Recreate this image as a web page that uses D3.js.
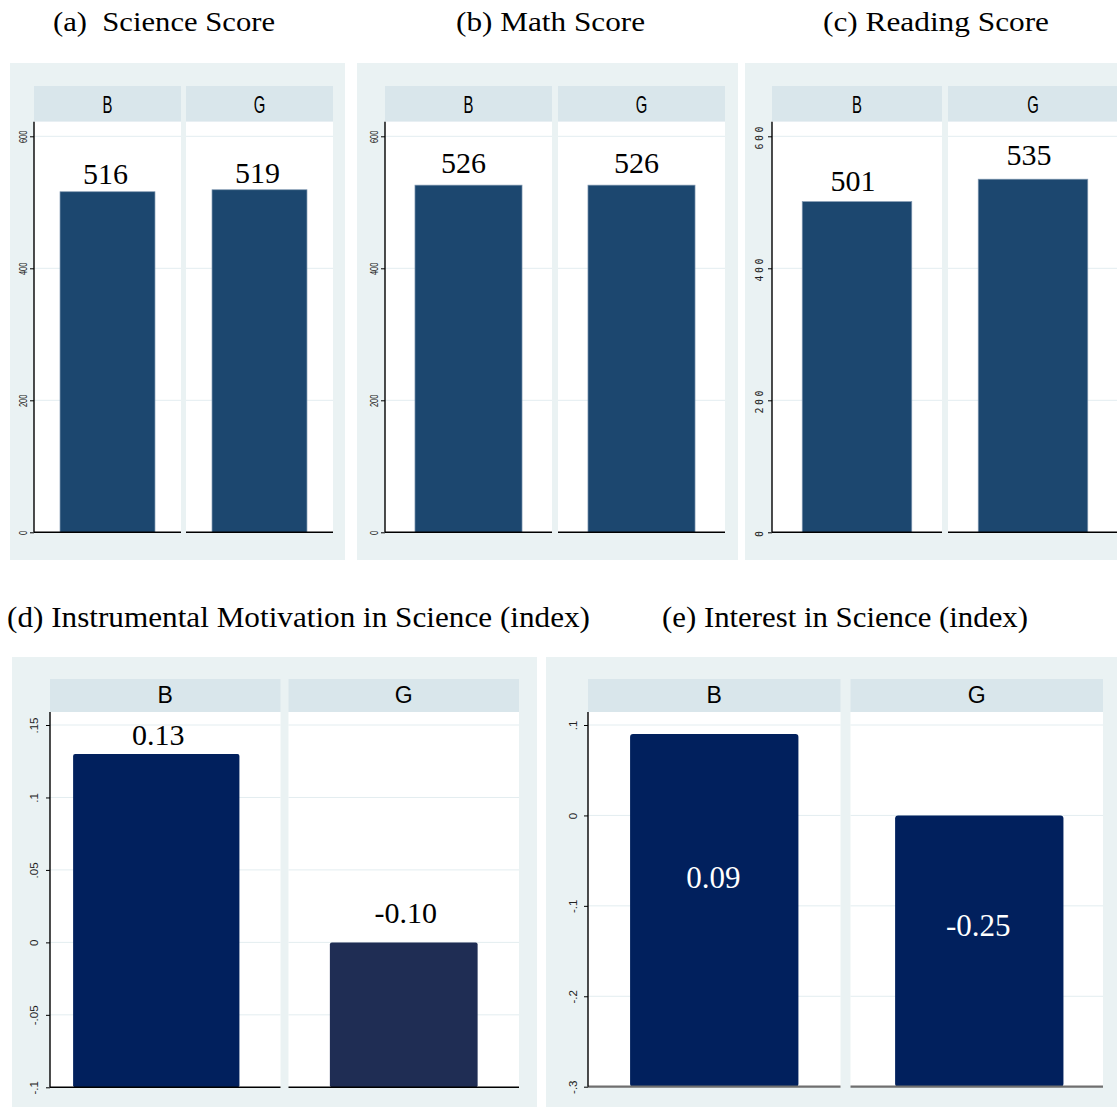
<!DOCTYPE html>
<html>
<head>
<meta charset="utf-8">
<script src="https://cdn.jsdelivr.net/npm/d3@7"></script>
<style>
  html, body { margin: 0; padding: 0; background: #ffffff; }
  svg { display: block; }
</style>
</head>
<body>
<svg id="chart" width="1117" height="1108"></svg>
<script>
// ---- data ----------------------------------------------------------
const groups = ["B", "G"];

const scienceScore = [516, 519];
const mathScore = [526, 526];
const readingScore = [501, 535];
const instrumentalMotivation = [0.13, -0.10];
const interestInScience = [0.09, -0.25];

const scoreTicks = [0, 200, 400, 600];
const scoreTickLabels = ["0", "200", "400", "600"];
const motivationTicks = [-0.1, -0.05, 0, 0.05, 0.1, 0.15];
const motivationTickLabels = ["-.1", "-.05", "0", ".05", ".1", ".15"];
const interestTicks = [-0.3, -0.2, -0.1, 0, 0.1];
const interestTickLabels = ["-.3", "-.2", "-.1", "0", ".1"];

const panelTitles = [
  "(a)  Science Score",
  "(b) Math Score",
  "(c) Reading Score",
  "(d) Instrumental Motivation in Science (index)",
  "(e) Interest in Science (index)"
];

// ---- number formats (plain hyphen for negatives) --------------------
const loc = d3.formatLocale({ decimal: ".", thousands: ",", grouping: [3], currency: ["", ""], minus: "-" });
const fmtInt = loc.format("d");
const fmt2 = loc.format(".2f");

// ---- colours ---------------------------------------------------------
const BG = "#eaf2f3";
const STRIP = "#d9e6eb";
const GRID = "#e3edf0";
const NAVY_TOP = "#1c476f";
const NAVY_BOT = "#01205d";
const NAVY_DARK = "#1f2d54";

const serif = "'Liberation Serif', 'Times New Roman', serif";
const sans = "'Liberation Sans', Arial, sans-serif";

// ---- panel layout ----------------------------------------------------
const panels = [
  {
    title: panelTitles[0], titleX: 53, titleY: 31, titleLen: 222, titleSize: 28,
    bg: [10, 63, 345, 560], x0: 34, x1: 333, gap: 5,
    stripTop: 86, plotTop: 121.7, plotBottom: 532.3, yMaxPx: 136.3,
    domain: [0, 600], values: scienceScore, ticks: scoreTicks, tickLabels: scoreTickLabels,
    fmt: fmtInt, barPad: [0.274, 0.274], barAlign: [0.5, 0.5], colors: [NAVY_TOP, NAVY_TOP],
    labelInside: false, labelDy: [-8, -7], labelDx: -2, labelSize: 30, labelColor: "#000",
    stripStyle: "narrow", tickStyle: "narrow", tickGap: 7, bottomAxisColor: "#000", bottomAxisW: 1.4, radius: 0,
    outline: true
  },
  {
    title: panelTitles[1], titleX: 456, titleY: 31, titleLen: 189, titleSize: 28,
    bg: [357, 63, 738, 560], x0: 385, x1: 725, gap: 6,
    stripTop: 86, plotTop: 121.7, plotBottom: 532.3, yMaxPx: 136.3,
    domain: [0, 600], values: mathScore, ticks: scoreTicks, tickLabels: scoreTickLabels,
    fmt: fmtInt, barPad: [0.28, 0.28], barAlign: [0.5, 0.5], colors: [NAVY_TOP, NAVY_TOP],
    labelInside: false, labelDy: [-12, -12], labelDx: -5, labelSize: 30, labelColor: "#000",
    stripStyle: "narrow", tickStyle: "narrow", tickGap: 7, bottomAxisColor: "#000", bottomAxisW: 1.4, radius: 0,
    outline: true
  },
  {
    title: panelTitles[2], titleX: 823, titleY: 31, titleLen: 226, titleSize: 28,
    bg: [745, 63, 1135, 560], x0: 772, x1: 1118, gap: 6,
    stripTop: 86, plotTop: 121.7, plotBottom: 532.3, yMaxPx: 136.3,
    domain: [0, 600], values: readingScore, ticks: scoreTicks, tickLabels: scoreTickLabels,
    fmt: fmtInt, barPad: [0.276, 0.276], barAlign: [0.5, 0.5], colors: [NAVY_TOP, NAVY_TOP],
    labelInside: false, labelDy: [-11, -14], labelDx: -4, labelSize: 30, labelColor: "#000",
    stripStyle: "narrow", tickStyle: "spaced", tickGap: 9, bottomAxisColor: "#000", bottomAxisW: 1.4, radius: 0,
    outline: true
  },
  {
    title: panelTitles[3], titleX: 7, titleY: 627, titleLen: 583, titleSize: 29,
    bg: [12, 657, 537, 1107], x0: 50, x1: 519, gap: 8,
    stripTop: 679, plotTop: 712, plotBottom: 1087.3, yMaxPx: 725,
    domain: [-0.1, 0.15], values: instrumentalMotivation, ticks: motivationTicks, tickLabels: motivationTickLabels,
    fmt: fmt2, barPad: [0.193, 0.28], barAlign: [0.36, 0.5], colors: [NAVY_BOT, NAVY_DARK],
    labelInside: false, labelDy: [-9, -19], labelDx: 2, labelSize: 30, labelColor: "#000",
    stripStyle: "regular", tickStyle: "regular", tickGap: 12, bottomAxisColor: "#000", bottomAxisW: 1.4, radius: 2,
    outline: false
  },
  {
    title: panelTitles[4], titleX: 662, titleY: 627, titleLen: 366, titleSize: 29,
    bg: [546, 657, 1125, 1107], x0: 588, x1: 1103, gap: 10,
    stripTop: 679, plotTop: 712, plotBottom: 1086.7, yMaxPx: 725,
    domain: [-0.3, 0.1], values: interestInScience, ticks: interestTicks, tickLabels: interestTickLabels,
    fmt: fmt2, barPad: [0.25, 0.25], barAlign: [0.5, 0.53], colors: [NAVY_BOT, NAVY_BOT],
    labelInside: true, labelDy: [154, 121], labelDx: -1, labelSize: 31, labelColor: "#fff",
    stripStyle: "regular", tickStyle: "regular", tickGap: 11, bottomAxisColor: "#6f6f6f", bottomAxisW: 2.2, radius: 3,
    outline: false
  }
];

const svg = d3.select("#chart");

panels.forEach(p => {
  const g = svg.append("g");

  // panel title
  g.append("text")
    .attr("x", p.titleX).attr("y", p.titleY)
    .attr("font-family", serif).attr("font-size", p.titleSize)
    .attr("textLength", p.titleLen).attr("lengthAdjust", "spacingAndGlyphs")
    .attr("fill", "#000")
    .style("white-space", "pre")
    .text(p.title);

  // graph background
  g.append("rect")
    .attr("x", p.bg[0]).attr("y", p.bg[1])
    .attr("width", p.bg[2] - p.bg[0]).attr("height", p.bg[3] - p.bg[1])
    .attr("fill", BG);

  // facet positions
  const facetW = (p.x1 - p.x0 - p.gap) / 2;
  const facet = d3.scaleBand().domain(groups).range([p.x0, p.x1])
    .paddingInner(p.gap / (facetW + p.gap)).paddingOuter(0);

  const y = d3.scaleLinear().domain(p.domain).range([p.plotBottom, p.yMaxPx]);

  groups.forEach((grp, i) => {
    const fx = facet(grp), fw = facet.bandwidth();

    // strip header
    g.append("rect").attr("x", fx).attr("y", p.stripTop)
      .attr("width", fw).attr("height", p.plotTop - p.stripTop).attr("fill", STRIP);
    const st = g.append("text")
      .attr("text-anchor", "middle")
      .attr("font-family", sans)
      .attr("fill", "#000")
      .text(grp);
    if (p.stripStyle === "narrow") {
      st.attr("font-size", 24)
        .attr("transform", `translate(${fx + fw / 2},${p.stripTop + 26.5}) scale(0.62,1)`);
    } else {
      st.attr("font-size", 23)
        .attr("transform", `translate(${fx + fw / 2},${p.stripTop + 24.3})`);
    }

    // plot region
    g.append("rect").attr("x", fx).attr("y", p.plotTop)
      .attr("width", fw).attr("height", p.plotBottom - p.plotTop).attr("fill", "#fff");

    // grid lines
    g.selectAll(null).data(p.ticks.filter(t => t !== p.domain[0])).enter()
      .append("line")
      .attr("x1", fx).attr("x2", fx + fw)
      .attr("y1", d => y(d)).attr("y2", d => y(d))
      .attr("stroke", GRID).attr("stroke-width", 1);

    // bar: rises from the axis floor to the value (or to zero for negatives)
    const band = d3.scaleBand().domain([grp]).range([fx, fx + fw])
      .paddingInner(0).paddingOuter(p.barPad[i]).align(p.barAlign[i]);
    const v = p.values[i];
    const top = y(Math.max(v, 0));
    const base = y(p.domain[0]);
    g.append("rect")
      .attr("x", band(grp)).attr("y", top)
      .attr("width", band.bandwidth()).attr("height", base - top)
      .attr("rx", p.radius).attr("ry", p.radius)
      .attr("fill", p.colors[i])
      .attr("stroke", p.outline ? "#7f97b0" : "none")
      .attr("stroke-width", p.outline ? 0.7 : 0);

    // bottom axis segment
    g.append("line")
      .attr("x1", fx).attr("x2", fx + fw)
      .attr("y1", p.plotBottom).attr("y2", p.plotBottom)
      .attr("stroke", p.bottomAxisColor).attr("stroke-width", p.bottomAxisW);

    // value label
    g.append("text")
      .attr("x", band(grp) + band.bandwidth() / 2 + p.labelDx)
      .attr("y", top + p.labelDy[i])
      .attr("text-anchor", "middle")
      .attr("font-family", serif).attr("font-size", p.labelSize)
      .attr("fill", p.labelColor)
      .text(p.fmt(v));
  });

  // y axis
  const axis = d3.axisLeft(y)
    .tickValues(p.ticks)
    .tickFormat((d, i) => p.tickLabels[i])
    .tickSize(4).tickSizeOuter(0);
  const ax = g.append("g").attr("transform", `translate(${p.x0},0)`).call(axis);
  ax.select(".domain").remove();
  ax.selectAll(".tick line").attr("stroke", "#000").attr("stroke-width", 1);
  const tt = ax.selectAll(".tick text")
    .attr("transform", "rotate(-90)")
    .attr("x", 0).attr("y", -p.tickGap).attr("dy", 0)
    .attr("text-anchor", "middle")
    .attr("fill", "#222");
  if (p.tickStyle === "narrow") {
    tt.attr("font-family", sans).attr("font-size", 10)
      .attr("transform", "rotate(-90) scale(0.75,1)");
  } else if (p.tickStyle === "spaced") {
    tt.attr("font-family", "'DejaVu Sans Mono', monospace").attr("font-size", 10)
      .attr("letter-spacing", 2.5);
  } else {
    tt.attr("font-family", sans).attr("font-size", 11.5);
  }
  g.append("line")
    .attr("x1", p.x0).attr("x2", p.x0)
    .attr("y1", p.plotTop).attr("y2", p.plotBottom)
    .attr("stroke", "#000").attr("stroke-width", 1.4);
});
</script>
</body>
</html>
